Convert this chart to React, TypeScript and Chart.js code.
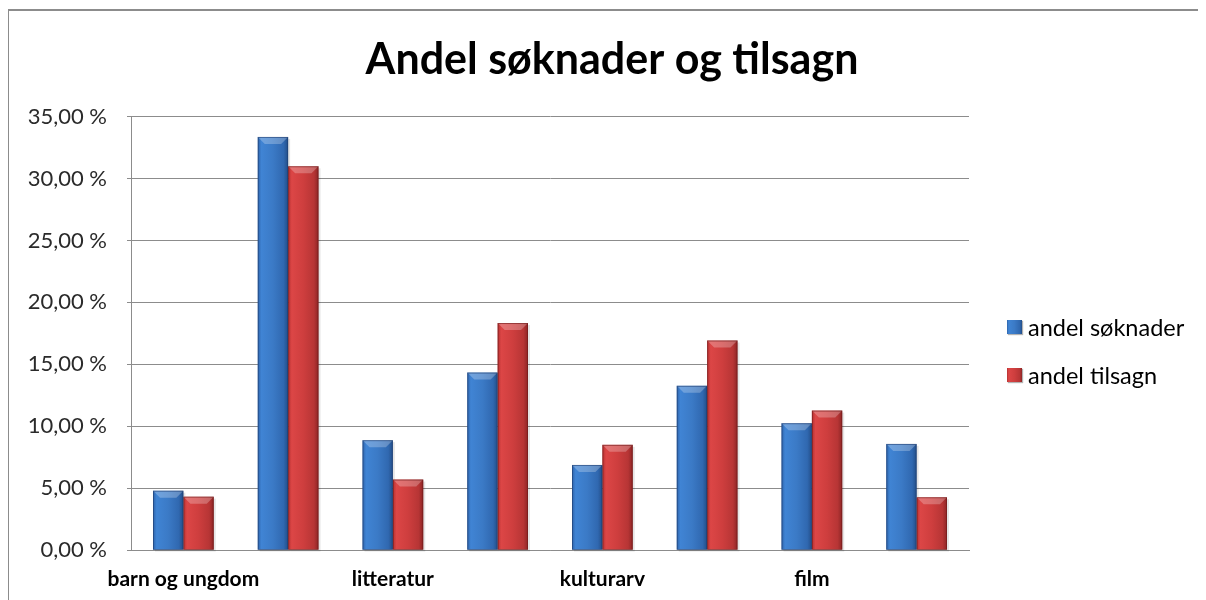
import React, { useEffect, useRef } from "react";
import { Chart, registerables } from "chart.js";

Chart.register(...registerables);

const titleText = "Andel søknader og tilsagn";
const categories = ["barn og ungdom", "", "litteratur", "", "kulturarv", "", "film", ""];
const seriesNames = ["andel søknader", "andel tilsagn"];
const soknader = [4.79, 33.36, 8.87, 14.33, 6.87, 13.26, 10.24, 8.57];
const tilsagn = [4.31, 30.99, 5.69, 18.33, 8.49, 16.92, 11.26, 4.26];
const yMin = 0;
const yMax = 35;
const yStep = 5;

const blueStops: [number, string][] = [
  [0, "#2d63aa"],
  [0.12, "#4084d4"],
  [0.5, "#3b7ac6"],
  [0.85, "#3068b0"],
  [1, "#234e88"],
];
const redStops: [number, string][] = [
  [0, "#b53131"],
  [0.12, "#dc4646"],
  [0.5, "#ce3e3e"],
  [0.85, "#b73535"],
  [1, "#8c2525"],
];
const stopsList = [blueStops, redStops];
const legendColors = ["#3a78c4", "#c83b3b"];

const fmt = (v: number) => v.toFixed(2).replace(".", ",") + " %";

const barStylePlugin = {
  id: "barStyle",
  beforeDatasetsDraw(chart: any) {
    const ctx = chart.ctx;
    chart.data.datasets.forEach((_ds: any, i: number) => {
      const meta = chart.getDatasetMeta(i);
      meta.data.forEach((bar: any) => {
        const { x, width } = bar.getProps(["x", "width"], true);
        const left = x - width / 2;
        const g = ctx.createLinearGradient(left, 0, left + width, 0);
        stopsList[i].forEach(([o, c]) => g.addColorStop(o, c));
        bar.options = Object.assign({}, bar.options, { backgroundColor: g });
      });
    });
    ctx.save();
    chart.data.datasets.forEach((_ds: any, i: number) => {
      const meta = chart.getDatasetMeta(i);
      meta.data.forEach((bar: any) => {
        const { x, width, y, base } = bar.getProps(["x", "width", "y", "base"], true);
        ctx.fillStyle = "rgba(0,0,0,0.10)";
        ctx.fillRect(x - width / 2 + 2, y + 2, width, base - y);
      });
    });
    ctx.restore();
  },
  afterDatasetsDraw(chart: any) {
    const ctx = chart.ctx;
    ctx.save();
    chart.data.datasets.forEach((_ds: any, i: number) => {
      const meta = chart.getDatasetMeta(i);
      meta.data.forEach((bar: any) => {
        const { x, width, y } = bar.getProps(["x", "width", "y"], true);
        const l = x - width / 2;
        const r = x + width / 2;
        const h = 7;
        ctx.beginPath();
        ctx.moveTo(l, y);
        ctx.lineTo(r, y);
        ctx.lineTo(r - 7, y + h);
        ctx.lineTo(l + 7, y + h);
        ctx.closePath();
        ctx.fillStyle = "rgba(255,255,255,0.25)";
        ctx.fill();
        ctx.strokeStyle = i === 0 ? "rgba(30,60,110,0.6)" : "rgba(110,25,25,0.6)";
        ctx.lineWidth = 1;
        ctx.strokeRect(l + 0.5, y + 0.5, width - 1, chart.scales.y.getPixelForValue(0) - y - 1);
      });
    });
    ctx.restore();
  },
};

export default function App() {
  const canvasRef = useRef<HTMLCanvasElement>(null);

  useEffect(() => {
    const chart = new Chart(canvasRef.current!, {
      type: "bar",
      data: {
        labels: categories,
        datasets: [
          { label: seriesNames[0], data: soknader, backgroundColor: legendColors[0], borderWidth: 0 },
          { label: seriesNames[1], data: tilsagn, backgroundColor: legendColors[1], borderWidth: 0 },
        ],
      },
      options: {
        animation: false,
        responsive: false,
        devicePixelRatio: 1,
        layout: { padding: { left: 18, right: 0, top: 0, bottom: 0 } },
        datasets: {
          bar: { categoryPercentage: 0.58, barPercentage: 1 },
        },
        plugins: {
          legend: { display: false },
          tooltip: { enabled: false },
          title: {
            display: true,
            text: titleText,
            color: "#000",
            font: { family: "Lato", size: 43, weight: "bold", lineHeight: 1.2 },
            padding: { top: 26, bottom: 31 },
          },
        },
        scales: {
          x: {
            grid: { display: false },
            border: { display: true, color: "#8c8c8c", width: 1 },
            ticks: {
              autoSkip: false,
              maxRotation: 0,
              color: "#000",
              padding: 9,
              font: { family: "Lato", size: 21, weight: "bold" },
            },
            afterFit: (s: any) => {
              s.height = 50;
            },
          },
          y: {
            min: yMin,
            max: yMax,
            ticks: {
              stepSize: yStep,
              color: "#2a2a2a",
              padding: 20,
              font: { family: "Lato", size: 22 },
              callback: (v: any) => fmt(Number(v)),
            },
            grid: { color: "#8c8c8c", lineWidth: 1, tickLength: 4, drawTicks: true },
            border: { display: true, color: "#8c8c8c", width: 1 },
            afterFit: (s: any) => {
              s.width = 105;
            },
          },
          spacer: {
            type: "linear",
            position: "right",
            display: true,
            grid: { display: false, drawOnChartArea: false },
            border: { display: false },
            ticks: { display: false },
            afterFit: (s: any) => {
              s.width = 229;
            },
          },
        },
      },
      plugins: [barStylePlugin],
    } as any);
    return () => chart.destroy();
  }, []);

  const legendItem = (i: number, top: number) => (
    <div
      key={i}
      style={{
        position: "absolute",
        left: 999,
        top: top - 13,
        height: 26,
        display: "flex",
        alignItems: "center",
        fontFamily: "Lato",
        fontSize: 23.5,
        color: "#000",
        whiteSpace: "nowrap",
      }}
    >
      <span
        style={{
          display: "inline-block",
          width: 15,
          height: 14,
          marginRight: 6,
          background: `linear-gradient(to right, ${stopsList[i].map(([o, c]) => `${c} ${o * 100}%`).join(", ")})`,
          boxShadow: "1px 1px 1px rgba(0,0,0,0.3)",
        }}
      />
      {seriesNames[i]}
    </div>
  );

  return (
    <div style={{ position: "relative", width: 1198, height: 592, overflow: "hidden" }}>
      <div
        style={{
          position: "absolute",
          left: -1,
          top: 1,
          width: 1400,
          height: 800,
          border: "2px solid #8c8c8c",
          boxSizing: "border-box",
        }}
      />
      <canvas ref={canvasRef} width={1190} height={592} style={{ position: "absolute", left: 0, top: 0 }} />
      {legendItem(0, 319)}
      {legendItem(1, 367)}
    </div>
  );
}
